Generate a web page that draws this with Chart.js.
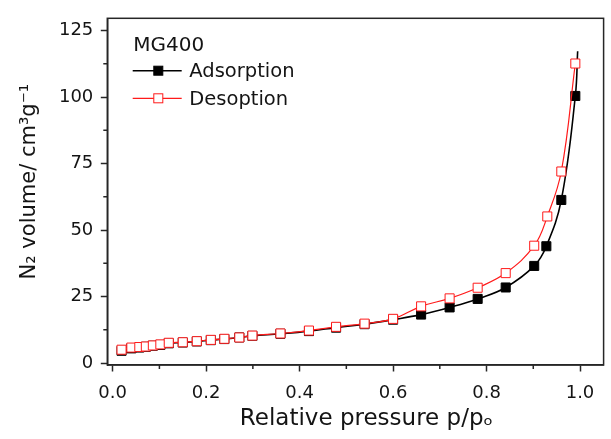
<!DOCTYPE html>
<html><head><meta charset="utf-8">
<script src="https://cdn.jsdelivr.net/npm/chart.js@4.4.1/dist/chart.umd.min.js"></script>
<style>html,body{margin:0;padding:0;background:#fff}#wrap{width:611px;height:439px;position:relative}</style>
</head><body><div id="wrap"><canvas id="c" width="611" height="439"></canvas></div>
<script>
// ---- data ----
const legendTitle = 'MG400';
const seriesNames = ['Adsorption', 'Desoption'];
const adsPressure = [0.019,0.040,0.057,0.071,0.086,0.102,0.120,0.150,0.180,0.210,0.239,0.271,0.299,0.359,0.420,0.478,0.539,0.600,0.660,0.721,0.781,0.841,0.902,0.928,0.960,0.990,0.995];
const adsVolume   = [4.6,5.5,5.8,6.1,6.5,6.8,7.4,7.7,8.1,8.6,9.0,9.6,10.2,11.0,12.0,13.3,14.6,16.3,18.2,20.9,24.1,28.4,36.5,43.9,61.3,100.4,117.2];
const desPressure = [0.019,0.040,0.057,0.071,0.086,0.102,0.120,0.150,0.180,0.210,0.239,0.271,0.299,0.359,0.420,0.478,0.539,0.600,0.660,0.721,0.781,0.841,0.902,0.930,0.960,0.990];
const desVolume   = [5.0,5.8,6.0,6.2,6.6,7.0,7.6,7.8,8.2,8.7,9.1,9.6,10.3,11.1,12.2,13.6,14.8,16.6,21.3,24.3,28.3,33.8,44.1,55.1,72.0,112.6];
const xMajorTicks = [0, 0.2, 0.4, 0.6, 0.8, 1.0];
const xMinorTicks = [0.1, 0.3, 0.5, 0.7, 0.9];
const yMajorTicks = [0, 25, 50, 75, 100, 125];
const yMinorTicks = [12.5, 37.5, 62.5, 87.5, 112.5];
const xAxisTitle = '   Relative pressure p/p\u2092';
const yAxisTitle = '   N\u2082 volume/ cm\u00B3g\u207B\u00B9';

// ---- styling ----
const FONT = '"DejaVu Sans", "Liberation Sans", sans-serif';
const AXIS_COLOR = '#262626';
const TEXT_COLOR = '#141414';
const RED = '#ff1a1a';

const frameAndMinorTicks = {
  id: 'frameAndMinorTicks',
  afterDraw(chart) {
    const ctx = chart.ctx, a = chart.chartArea;
    const xs = chart.scales.x, ys = chart.scales.y;
    ctx.save();
    ctx.strokeStyle = AXIS_COLOR;
    ctx.lineWidth = 1.5;
    ctx.strokeRect(a.left, a.top, a.right - a.left, a.bottom - a.top);
    ctx.beginPath();
    xMinorTicks.forEach(v => {
      const px = xs.getPixelForValue(v);
      ctx.moveTo(px, a.bottom); ctx.lineTo(px, a.bottom + 4);
    });
    yMinorTicks.forEach(v => {
      const py = ys.getPixelForValue(v);
      ctx.moveTo(a.left, py); ctx.lineTo(a.left - 4, py);
    });
    ctx.stroke();
    ctx.restore();
  }
};

const insetLegend = {
  id: 'insetLegend',
  afterDraw(chart) {
    const ctx = chart.ctx, a = chart.chartArea;
    ctx.save();
    ctx.fillStyle = TEXT_COLOR;
    ctx.textAlign = 'left';
    ctx.textBaseline = 'alphabetic';
    ctx.font = '20px ' + FONT;
    ctx.fillText(legendTitle, a.left + 26, a.top + 32.4);
    [0, 1].forEach((di, r) => {
      const ds = chart.data.datasets[di];
      const ly = a.top + 52.4 + r * 27.6;
      ctx.strokeStyle = ds.borderColor;
      ctx.lineWidth = ds.borderWidth;
      ctx.beginPath();
      ctx.moveTo(a.left + 25.4, ly); ctx.lineTo(a.left + 74.4, ly);
      ctx.stroke();
      const s = 9;
      const cx = a.left + 51;
      ctx.fillStyle = ds.pointBackgroundColor;
      ctx.strokeStyle = ds.pointBorderColor;
      ctx.lineWidth = ds.pointBorderWidth;
      ctx.fillRect(cx - s / 2, ly - s / 2, s, s);
      ctx.strokeRect(cx - s / 2, ly - s / 2, s, s);
      ctx.fillStyle = TEXT_COLOR;
      ctx.font = '19.5px ' + FONT;
      ctx.fillText(ds.label, a.left + 82, ly + 6.6);
    });
    ctx.restore();
  }
};

const adsLast = adsPressure.length - 1;

new Chart(document.getElementById('c'), {
  type: 'line',
  data: {
    datasets: [
      {
        label: seriesNames[0],
        data: adsPressure.map((p, i) => ({x: p, y: adsVolume[i]})),
        borderColor: '#000000',
        borderWidth: 1.6,
        pointStyle: 'rect',
        pointRadius: c => c.dataIndex === adsLast ? 0 : 6.4,
        pointBackgroundColor: '#000000',
        pointBorderColor: '#000000',
        pointBorderWidth: 1,
        tension: 0.4,
        order: 1
      },
      {
        label: seriesNames[1],
        data: desPressure.map((p, i) => ({x: p, y: desVolume[i]})),
        borderColor: RED,
        borderWidth: 1.2,
        pointStyle: 'rect',
        pointRadius: 6.4,
        pointBackgroundColor: '#ffffff',
        pointBorderColor: RED,
        pointBorderWidth: 1,
        tension: 0.4,
        order: 0
      }
    ]
  },
  options: {
    responsive: false,
    devicePixelRatio: 1,
    animation: false,
    events: [],
    layout: {padding: {top: 9.3, right: 4.3, left: 0, bottom: 0}},
    plugins: {legend: {display: false}, tooltip: {enabled: false}},
    scales: {
      x: {
        type: 'linear',
        min: -0.0115,
        max: 1.0505,
        afterFit: s => { s.height = 74; },
        afterBuildTicks: s => { s.ticks = xMajorTicks.map(v => ({value: v})); },
        border: {display: true, color: AXIS_COLOR, width: 1.5},
        grid: {display: true, drawOnChartArea: false, drawTicks: true, tickLength: 6.5, tickWidth: 1.5, tickColor: AXIS_COLOR, color: AXIS_COLOR},
        ticks: {
          color: TEXT_COLOR, padding: 11, maxRotation: 0, autoSkip: false,
          font: {family: FONT, size: 18},
          callback: v => Number(v).toFixed(1)
        },
        title: {display: true, text: xAxisTitle, color: TEXT_COLOR, font: {family: FONT, size: 23, lineHeight: 1}, padding: {top: 0, bottom: 8.5}}
      },
      y: {
        type: 'linear',
        min: -0.75,
        max: 129.6,
        afterFit: s => { s.width = 107.3; },
        afterBuildTicks: s => { s.ticks = yMajorTicks.map(v => ({value: v})); },
        border: {display: true, color: AXIS_COLOR, width: 1.5},
        grid: {display: true, drawOnChartArea: false, drawTicks: true, tickLength: 6.5, tickWidth: 1.5, tickColor: AXIS_COLOR, color: AXIS_COLOR},
        ticks: {
          color: TEXT_COLOR, padding: 7.5, autoSkip: false,
          font: {family: FONT, size: 18},
          callback: v => String(Math.round(v))
        },
        title: {display: true, text: yAxisTitle, color: TEXT_COLOR, font: {family: FONT, size: 21, lineHeight: 1}, padding: {top: 19.5, bottom: 0}}
      }
    }
  },
  plugins: [frameAndMinorTicks, insetLegend]
});
</script>
</body></html>
